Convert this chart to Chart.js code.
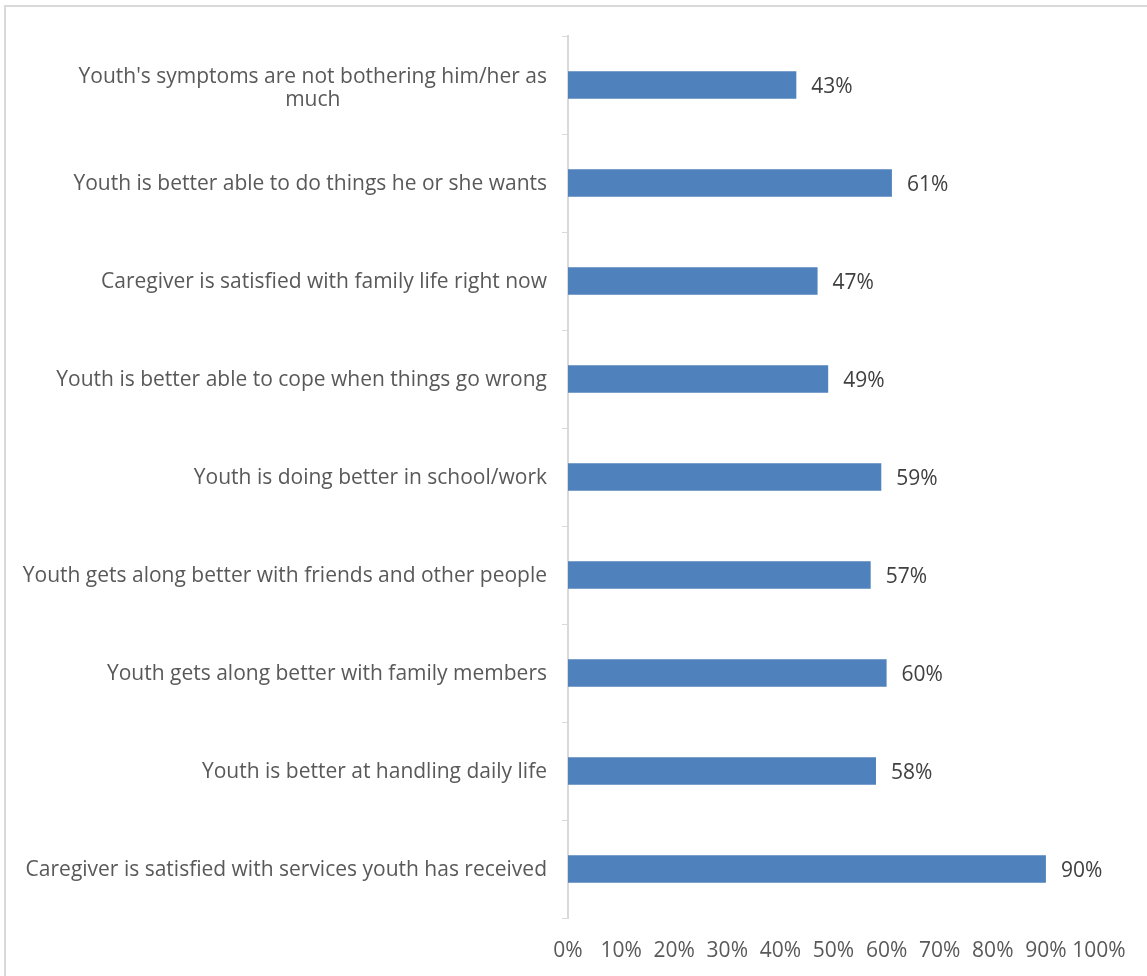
<!DOCTYPE html>
<html>
<head>
<meta charset="utf-8">
<script src="https://cdn.jsdelivr.net/npm/chart.js@4/dist/chart.umd.min.js"></script>
<style>
  html, body { margin: 0; padding: 0; background: #fff; overflow: hidden; }
  #wrap { position: relative; width: 1147px; height: 976px; }
  #frame { position: absolute; left: 4px; top: 5px; width: 1200px; height: 1100px;
           border-left: 2px solid #d9d9d9; border-top: 2px solid #d9d9d9; box-sizing: border-box; }
  canvas { position: absolute; left: 0; top: 0; }
</style>
</head>
<body>
<div id="wrap">
  <div id="frame"></div>
  <canvas id="c" width="1147" height="976"></canvas>
</div>
<script>
const categories = [
  ["Youth's symptoms are not bothering him/her as", "much"],
  ["Youth is better able to do things he or she wants"],
  ["Caregiver is satisfied with family life right now"],
  ["Youth is better able to cope when things go wrong"],
  ["Youth is doing better in school/work"],
  ["Youth gets along better with friends and other people"],
  ["Youth gets along better with family members"],
  ["Youth is better at handling daily life"],
  ["Caregiver is satisfied with services youth has received"]
];
const percentAgree = [43, 61, 47, 49, 59, 57, 60, 58, 90];
const xTicks = [0, 10, 20, 30, 40, 50, 60, 70, 80, 90, 100];

const FONT = "'Open Sans', 'Noto Sans', sans-serif";
const LABEL_SIZE = 21;
const TICK_SIZE = 21;

// Category labels: each label block is right-aligned beside the axis,
// and wrapped lines are centred within their block.
const categoryLabels = {
  id: 'categoryLabels',
  afterDraw(chart) {
    const ctx = chart.ctx;
    const y = chart.scales.y;
    const right = y.right - 21;
    ctx.save();
    ctx.font = LABEL_SIZE + 'px ' + FONT;
    ctx.fillStyle = '#595959';
    ctx.textBaseline = 'middle';
    ctx.textAlign = 'center';
    const lineH = 23;
    categories.forEach((lines, i) => {
      const cy = y.getPixelForValue(i) + (lines.length > 1 ? 4 : 1);
      const w = Math.max(...lines.map(l => ctx.measureText(l).width));
      const cx = right - w / 2;
      const top = cy - (lines.length - 1) * lineH / 2;
      lines.forEach((l, k) => ctx.fillText(l, cx, top + k * lineH));
    });
    ctx.restore();
  }
};

// Value labels to the right of each bar.
const valueLabels = {
  id: 'valueLabels',
  afterDatasetsDraw(chart) {
    const ctx = chart.ctx;
    const meta = chart.getDatasetMeta(0);
    ctx.save();
    ctx.font = LABEL_SIZE + 'px ' + FONT;
    ctx.fillStyle = '#404040';
    ctx.textBaseline = 'middle';
    ctx.textAlign = 'left';
    meta.data.forEach((bar, i) => {
      ctx.fillText(percentAgree[i] + '%', bar.x + 15, bar.y + 2);
    });
    ctx.restore();
  }
};

new Chart(document.getElementById('c'), {
  type: 'bar',
  data: {
    labels: categories,
    datasets: [{
      data: percentAgree,
      backgroundColor: '#4f81bd',
      borderWidth: 0,
      categoryPercentage: 1,
      barPercentage: 0.28
    }]
  },
  options: {
    indexAxis: 'y',
    responsive: false,
    animation: false,
    devicePixelRatio: 1,
    layout: { padding: { top: 36, right: 48, left: 0, bottom: 0 } },
    plugins: { legend: { display: false }, tooltip: { enabled: false } },
    scales: {
      y: {
        type: 'category',
        offset: true,
        ticks: { display: false },
        grid: { offset: true, drawOnChartArea: false, drawTicks: true, tickLength: 6, color: '#d9d9d9', lineWidth: 1 },
        border: { display: true, color: '#d9d9d9', width: 2 },
        afterFit(scale) { scale.width = 568; }
      },
      x: {
        min: 0, max: 100,
        afterBuildTicks(scale) { scale.ticks = xTicks.map(v => ({ value: v })); },
        ticks: {
          callback: v => v + '%',
          color: '#595959',
          font: { family: FONT, size: TICK_SIZE },
          padding: 20,
          maxRotation: 0,
          autoSkip: false
        },
        grid: { display: false, drawTicks: false },
        border: { display: false },
        afterFit(scale) { scale.height = 58; }
      }
    }
  },
  plugins: [categoryLabels, valueLabels]
});
</script>
</body>
</html>
